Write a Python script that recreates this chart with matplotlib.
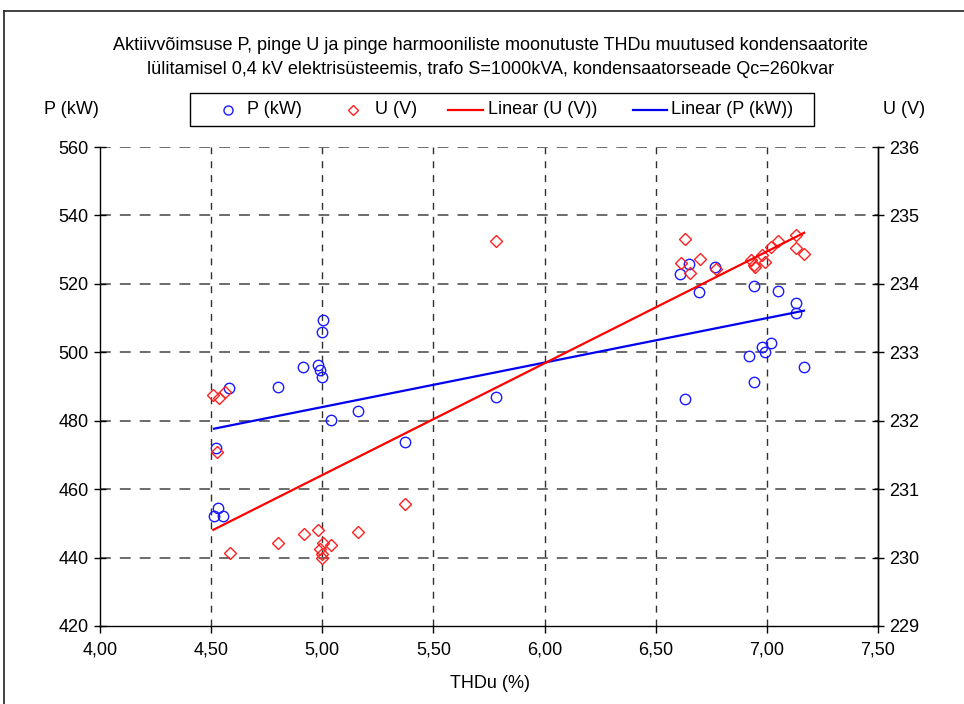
import numpy as np
import matplotlib
matplotlib.use("Agg")
import matplotlib.pyplot as plt
from matplotlib.lines import Line2D
from matplotlib.patches import Rectangle
from matplotlib.ticker import FixedLocator, FuncFormatter

plt.rcParams['font.family'] = ['Liberation Sans', 'DejaVu Sans']

# Active power P (kW) against voltage THD (%)
thd_p = [4.513, 4.520, 4.532, 4.555, 4.580, 4.800, 4.915, 4.980, 4.990, 5.000,
         5.000, 5.005, 5.040, 5.160, 5.370, 5.780, 6.609, 6.630, 6.651, 6.696,
         6.768, 6.920, 6.942, 6.942, 6.977, 6.992, 7.020, 7.050, 7.130, 7.130,
         7.167]
p_kw = [452.2, 471.9, 454.5, 452.2, 489.6, 490.0, 495.8, 496.3, 494.8, 492.8,
        506.0, 509.4, 480.1, 482.7, 473.7, 486.9, 522.8, 486.3, 525.8, 517.5,
        524.8, 498.9, 519.4, 491.2, 501.6, 500.0, 502.8, 517.9, 514.3, 511.5,
        495.8]

# Voltage U (V) against voltage THD (%)
thd_u = [4.510, 4.525, 4.537, 4.562, 4.585, 4.800, 4.918, 4.980, 4.990, 5.000,
         5.000, 5.005, 5.040, 5.160, 5.370, 5.780, 6.612, 6.632, 6.654, 6.699,
         6.771, 6.927, 6.942, 6.946, 6.977, 6.991, 7.020, 7.050, 7.130, 7.130,
         7.168]
u_v = [232.37, 231.55, 232.33, 232.42, 230.07, 230.22, 230.34, 230.40, 230.12, 229.99,
       230.05, 230.21, 230.18, 230.37, 230.79, 234.63, 234.30, 234.65, 234.16, 234.36,
       234.21, 234.35, 234.27, 234.25, 234.42, 234.32, 234.54, 234.63, 234.71, 234.52,
       234.43]

x_ticks = [4.0, 4.5, 5.0, 5.5, 6.0, 6.5, 7.0, 7.5]
p_ticks = [420, 440, 460, 480, 500, 520, 540, 560]
u_ticks = [229, 230, 231, 232, 233, 234, 235, 236]

BLUE_MK = '#1a1aff'
RED_MK = '#ff2020'
BLUE_LN = '#0000ee'
RED_LN = '#ff0000'
FS = 13

W, H = 964, 704
fig = plt.figure(figsize=(W / 100, H / 100), dpi=100)


def fx(px):
    return px / W


def fy(py):
    return 1 - py / H


ax = fig.add_axes([fx(100), fy(626), (878 - 100) / W, (626 - 147) / H])
ax2 = ax.twinx()

ax.set_xlim(4.0, 7.5)
ax.set_ylim(420, 560)
ax2.set_ylim(229, 236)

# dashed grid
for xv in x_ticks[1:-1]:
    ax.axvline(xv, color='#303030', lw=1.0, dashes=(5, 5), zorder=0)
for yv in p_ticks[1:]:
    ax.axhline(yv, color='#606060', lw=1.3, dashes=(6, 5), zorder=0)

# linear trend lines
cp = np.polyfit(thd_p, p_kw, 1)
cu = np.polyfit(thd_u, u_v, 1)
xp = np.array([min(thd_p), max(thd_p)])
xu = np.array([min(thd_u), max(thd_u)])

ax.plot(thd_p, p_kw, linestyle='none', marker='o', ms=7.5, mfc='none',
        mec=BLUE_MK, mew=1.0, zorder=3)
ax.plot(xp, np.polyval(cp, xp), color=BLUE_LN, lw=1.6, zorder=4)
ax2.plot(thd_u, u_v, linestyle='none', marker='D', ms=6.2, mfc='none',
         mec=RED_MK, mew=1.0, zorder=3)
ax2.plot(xu, np.polyval(cu, xu), color=RED_LN, lw=1.6, zorder=4)

fmt_x = FuncFormatter(lambda v, pos: f"{v:.2f}".replace('.', ','))
ax.xaxis.set_major_locator(FixedLocator(x_ticks))
ax.xaxis.set_major_formatter(fmt_x)
ax.yaxis.set_major_locator(FixedLocator(p_ticks))
ax2.yaxis.set_major_locator(FixedLocator(u_ticks))

for a in (ax, ax2):
    a.spines['top'].set_visible(False)
    for s in a.spines.values():
        s.set_linewidth(1.0)
        s.set_color('black')
    a.tick_params(direction='inout', length=8, width=1.0, labelsize=FS,
                  colors='black', pad=4)
ax.tick_params(axis='x', direction='out', length=5, pad=6)
ax2.spines['left'].set_visible(False)
ax2.spines['bottom'].set_visible(False)

fig.text(fx(490), fy(683), 'THDu (%)', ha='center', va='center', fontsize=FS)
fig.text(fx(71), fy(110), 'P (kW)', ha='center', va='center', fontsize=FS)
fig.text(fx(904), fy(110), 'U (V)', ha='center', va='center', fontsize=FS)

fig.text(fx(491), fy(45),
         'Aktiivvõimsuse P, pinge U ja pinge harmooniliste moonutuste THDu muutused kondensaatorite',
         ha='center', va='center', fontsize=FS)
fig.text(fx(491), fy(70),
         'lülitamisel 0,4 kV elektrisüsteemis, trafo S=1000kVA, kondensaatorseade Qc=260kvar',
         ha='center', va='center', fontsize=FS)

# legend box
fig.add_artist(Rectangle((fx(190), fy(126)), (814 - 190) / W, (126 - 93) / H,
                         transform=fig.transFigure, fill=False, ec='black', lw=1.0))
ly = fy(110)
fig.add_artist(Line2D([fx(228)], [ly], linestyle='none', marker='o', ms=6.5,
                      mfc='none', mec=BLUE_MK, mew=1.0, transform=fig.transFigure))
fig.add_artist(Line2D([fx(353)], [ly], linestyle='none', marker='D', ms=5.5,
                      mfc='none', mec=RED_MK, mew=1.0, transform=fig.transFigure))
fig.add_artist(Line2D([fx(448), fx(483)], [ly, ly], color=RED_LN, lw=1.6,
                      transform=fig.transFigure))
fig.add_artist(Line2D([fx(633), fx(667)], [ly, ly], color=BLUE_LN, lw=1.6,
                      transform=fig.transFigure))
for px, txt in [(247, 'P (kW)'), (375, 'U (V)'), (488, 'Linear (U (V))'),
                (671, 'Linear (P (kW))')]:
    fig.text(fx(px), ly, txt, ha='left', va='center', fontsize=FS)

# chart area border
fig.add_artist(Line2D([fx(4), fx(4)], [0, fy(11)], color='#222222', lw=1.2,
                      transform=fig.transFigure))
fig.add_artist(Line2D([fx(4), 1], [fy(11), fy(11)], color='#222222', lw=1.2,
                      transform=fig.transFigure))

fig.savefig('out.png', dpi=100)
